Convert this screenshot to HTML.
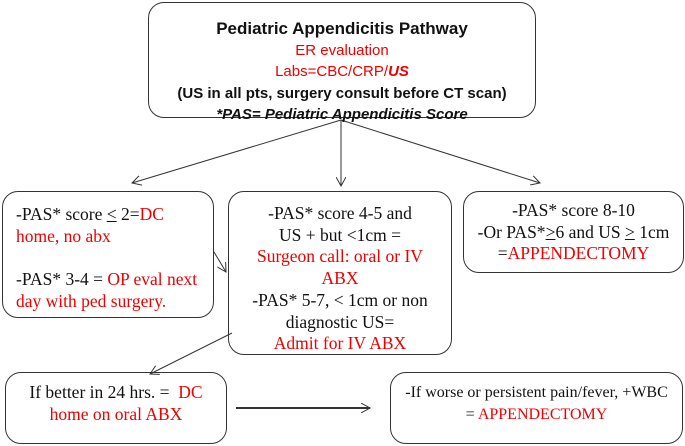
<!DOCTYPE html>
<html><head><style>
body{margin:0;width:685px;height:446px;background:#fff;position:relative;overflow:hidden;font-family:"Liberation Serif",serif;}
.b{position:absolute;border:1.3px solid #333;border-radius:16px;box-sizing:border-box;font-size:17.5px;line-height:21.7px;color:#111;white-space:nowrap;}
.r{color:#e00;}
.t{font-family:"Liberation Sans",sans-serif;text-align:center;font-size:15px;line-height:21.5px;}
</style></head><body>
<svg width="685" height="446" style="position:absolute;left:0;top:0">
<defs><marker id="a" markerWidth="10" markerHeight="10" refX="9" refY="5" orient="auto" markerUnits="userSpaceOnUse"><path d="M0,0 L9,5 L0,10" fill="none" stroke="#333" stroke-width="1"/></marker></defs>
<g stroke="#333" stroke-width="1" fill="none">
<line x1="341" y1="120" x2="132" y2="183" marker-end="url(#a)"/>
<line x1="341" y1="120" x2="341" y2="186" marker-end="url(#a)"/>
<line x1="341" y1="120" x2="540" y2="183" marker-end="url(#a)"/>
<line x1="214" y1="252" x2="226" y2="272" marker-end="url(#a)"/>
<line x1="232" y1="333" x2="150" y2="374" marker-end="url(#a)"/>
<line x1="236" y1="408" x2="370" y2="408" stroke-width="2" marker-end="url(#a)"/>
</g></svg>
<div class="b t" style="left:148px;top:2px;width:388px;height:116px;padding-top:15px">
<div style="font-weight:bold;font-size:17px">Pediatric Appendicitis Pathway</div>
<div class="r">ER evaluation</div>
<div class="r">Labs=CBC/CRP/<b><i>US</i></b></div>
<div style="font-weight:bold">(US in all pts, surgery consult before CT scan)</div>
<div style="font-weight:bold;font-style:italic">*PAS= Pediatric Appendicitis Score</div>
</div>
<div class="b" style="left:2px;top:191px;width:212px;height:127px;padding:12px 0 0 13px">
-PAS* score <u>&lt;</u> 2=<span class="r">DC</span><br><span class="r">home, no abx</span><br><br>-PAS* 3-4 = <span class="r">OP eval next</span><br><span class="r">day with ped surgery.</span></div>
<div class="b" style="left:228px;top:191px;width:224px;height:164px;padding-top:11px;text-align:center">
-PAS* score 4-5 and<br>US + but &lt;1cm =<br><span class="r">Surgeon call: oral or IV</span><br><span class="r">ABX</span><br>-PAS* 5-7, &lt; 1cm or non<br>diagnostic US=<br><span class="r">Admit for IV ABX</span></div>
<div class="b" style="left:463px;top:191px;width:221px;height:82px;padding-top:8px;text-align:center">
-PAS* score 8-10<br>-Or PAS*<u>&gt;</u>6 and US <u>&gt;</u> 1cm<br>=<span class="r">APPENDECTOMY</span></div>
<div class="b" style="left:5px;top:372px;width:222px;height:72px;padding-top:9px;text-align:center">
If better in 24 hrs. = &nbsp;<span class="r">DC</span><br><span class="r">home on oral ABX</span></div>
<div class="b" style="left:390px;top:372px;width:293px;height:72px;padding-top:9px;text-align:center;font-size:16px">
-If worse or persistent pain/fever, +WBC<br>= <span class="r">APPENDECTOMY</span></div>
</body></html>
